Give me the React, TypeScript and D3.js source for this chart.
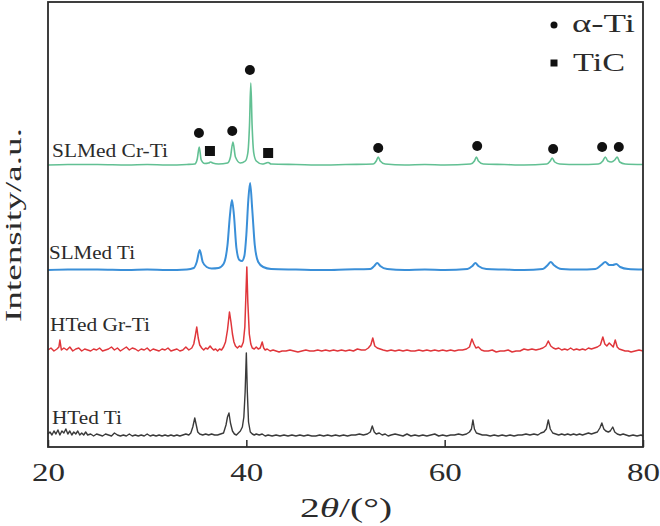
import React, { useEffect, useRef } from "react";
import * as d3 from "d3";

// ---------- data ----------
const xTicks = [20, 40, 60, 80];
const xTickLabels = ["20", "40", "60", "80"];
const seriesNames = ["HTed Ti", "HTed Gr-Ti", "SLMed Ti", "SLMed Cr-Ti"];
const seriesOffsets = [10, 95, 177, 282];

const htedTi: [number, number][] = [
  [20.0,3],[20.2,5],[20.4,2],[20.6,6],[20.8,3],[21.0,7],[21.2,2],[21.4,6],[21.6,4],[21.8,8],[22.0,3],[22.2,6],[22.4,2],[22.6,5],[22.8,3],[23.0,6],[23.2,2],[23.4,4],[23.6,2],[23.8,5],[24.0,2],[24.3,3],[24.6,1],[24.9,3],[25.2,2],[25.5,1],[25.8,3],[26.1,2],[26.4,1],[26.7,4],[27.0,2],[27.3,1],[27.6,2],[27.9,1],[28.2,3],[28.5,1],[28.8,2],[29.1,1],[29.4,2],[29.7,1],[30.0,3],[30.3,1],[30.6,2],[30.9,1],[31.2,2],[31.5,1],[31.8,2],[32.1,1],[32.4,2],[32.7,1],[33.0,2],[33.3,1],[33.6,2],[33.9,3],[34.2,2],[34.4,4],[34.6,10],[34.8,19],[34.95,12],[35.1,5],[35.3,3],[35.6,2],[35.9,3],[36.2,2],[36.5,3],[36.8,2],[37.1,2],[37.4,3],[37.7,4],[37.95,12],[38.1,20],[38.25,24],[38.4,14],[38.6,6],[38.8,3],[39.0,2],[39.2,4],[39.4,6],[39.6,10],[39.75,20],[39.88,45],[40.0,84],[40.1,45],[40.22,15],[40.4,5],[40.6,3],[40.8,2],[41.0,3],[41.3,2],[41.6,3],[41.9,1],[42.2,2],[42.6,1],[43.0,2],[43.4,1],[43.8,2],[44.2,1],[44.6,2],[45.0,1],[45.4,2],[45.8,1],[46.2,2],[46.6,1],[47.0,1],[47.4,2],[47.8,1],[48.2,2],[48.6,1],[49.0,2],[49.4,1],[49.8,2],[50.2,1],[50.6,2],[51.0,2],[51.4,3],[51.8,2],[52.2,3],[52.5,5],[52.7,11],[52.9,5],[53.1,3],[53.4,4],[53.7,2],[54.0,3],[54.3,1],[54.6,2],[55.0,3],[55.4,2],[55.8,1],[56.2,3],[56.6,1],[57.0,2],[57.4,1],[57.8,2],[58.2,1],[58.6,2],[59.0,3],[59.4,1],[59.8,2],[60.2,1],[60.6,2],[61.0,2],[61.4,3],[61.8,2],[62.2,3],[62.5,5],[62.7,8],[62.85,17],[63.0,8],[63.2,4],[63.5,3],[63.8,2],[64.2,2],[64.6,1],[65.0,2],[65.4,1],[65.8,2],[66.2,1],[66.6,2],[67.0,1],[67.4,2],[67.8,2],[68.2,3],[68.6,2],[69.0,3],[69.4,2],[69.7,4],[70.0,5],[70.25,8],[70.45,17],[70.65,8],[70.9,4],[71.2,3],[71.5,2],[71.8,3],[72.1,2],[72.4,3],[72.7,2],[73.0,3],[73.3,2],[73.6,3],[73.9,2],[74.2,3],[74.5,4],[74.8,3],[75.1,4],[75.4,5],[75.65,9],[75.85,14],[76.05,8],[76.25,6],[76.5,5],[76.7,6],[76.95,10],[77.15,5],[77.4,3],[77.7,2],[78.0,3],[78.3,2],[78.6,1],[79.0,2],[79.4,1],[79.8,2],[80.0,1]
];

const htedGrTi: [number, number][] = [
  [20.0,2],[20.3,4],[20.6,1],[20.9,3],[21.1,5],[21.2,12],[21.35,2],[21.6,4],[21.9,2],[22.2,5],[22.5,1],[22.8,3],[23.1,4],[23.4,1],[23.7,3],[24.0,2],[24.3,1],[24.6,3],[24.9,2],[25.2,4],[25.5,1],[25.8,2],[26.1,3],[26.4,5],[26.7,2],[27.0,4],[27.3,1],[27.6,3],[27.9,5],[28.2,2],[28.5,4],[28.8,3],[29.1,1],[29.4,3],[29.7,2],[30.0,4],[30.3,1],[30.6,3],[30.9,2],[31.2,1],[31.5,3],[31.8,2],[32.1,4],[32.4,1],[32.7,2],[33.0,3],[33.3,1],[33.6,2],[33.9,5],[34.2,2],[34.5,4],[34.7,8],[34.85,16],[35.0,25],[35.15,14],[35.3,7],[35.5,4],[35.7,2],[35.9,4],[36.1,3],[36.35,6],[36.5,4],[36.7,2],[36.9,3],[37.1,1],[37.3,3],[37.5,2],[37.7,5],[37.9,10],[38.1,22],[38.3,40],[38.45,30],[38.6,18],[38.75,10],[38.9,6],[39.1,4],[39.3,6],[39.5,5],[39.7,10],[39.85,25],[39.95,55],[40.05,85],[40.15,50],[40.3,18],[40.45,8],[40.6,4],[40.8,3],[41.0,5],[41.2,3],[41.4,4],[41.6,10],[41.75,4],[41.9,2],[42.1,3],[42.4,1],[42.7,2],[43.0,1],[43.3,0],[43.6,1],[44.0,1],[44.4,2],[44.8,1],[45.2,0],[45.6,1],[46.0,2],[46.4,1],[46.8,1],[47.2,2],[47.6,1],[48.0,2],[48.4,1],[48.8,2],[49.2,1],[49.6,2],[50.0,1],[50.4,2],[50.8,1],[51.2,3],[51.6,2],[52.0,2],[52.3,4],[52.55,7],[52.75,14],[52.95,6],[53.2,4],[53.5,3],[53.8,2],[54.2,1],[54.6,2],[55.0,1],[55.4,2],[55.8,1],[56.2,2],[56.6,1],[57.0,1],[57.4,2],[57.8,1],[58.2,2],[58.6,1],[59.0,2],[59.4,1],[59.8,2],[60.2,1],[60.6,2],[61.0,1],[61.4,2],[61.8,2],[62.2,3],[62.5,5],[62.75,13],[62.95,8],[63.15,4],[63.4,5],[63.7,2],[64.0,1],[64.4,1],[64.8,2],[65.2,0],[65.6,1],[66.0,1],[66.4,2],[66.8,0],[67.2,1],[67.6,1],[68.0,3],[68.4,2],[68.8,3],[69.2,2],[69.6,3],[69.9,4],[70.2,6],[70.45,11],[70.7,6],[70.95,4],[71.2,3],[71.5,4],[71.8,2],[72.1,3],[72.4,2],[72.7,4],[73.0,2],[73.3,3],[73.6,2],[73.9,3],[74.2,2],[74.5,4],[74.8,3],[75.1,4],[75.4,5],[75.7,7],[75.95,15],[76.15,8],[76.35,6],[76.6,9],[76.8,7],[77.0,5],[77.2,12],[77.4,5],[77.6,3],[77.9,2],[78.2,1],[78.5,1],[78.8,0],[79.2,1],[79.6,2],[80.0,1]
];

const slmedTi: [number, number][] = [
  [20,0],[22,0.5],[25,0.5],[28,0],[30,0.5],[32,0],[34,0.5],[34.7,2],[35.0,8],[35.3,20],[35.6,8],[36.0,3],[36.5,1.5],[37.2,2],[37.7,6],[38.1,25],[38.35,55],[38.55,70],[38.75,55],[39.0,22],[39.3,10],[39.55,9],[39.8,14],[40.0,35],[40.2,70],[40.38,87],[40.6,60],[40.85,25],[41.2,8],[41.7,3],[42.5,1],[45,0.5],[48,0],[50,0.5],[52.5,1],[52.9,4],[53.2,7],[53.5,4],[54.2,1],[56,0],[58,0.5],[60,0],[62.3,1],[62.8,4],[63.1,7],[63.4,4],[64.2,1],[66,0.5],[68,0],[69.9,1],[70.4,5],[70.7,8],[71.0,5],[71.8,1],[73.5,0.5],[75.2,1],[75.8,5],[76.2,8],[76.6,5],[76.95,5],[77.3,6],[77.7,3],[78.5,1],[80,0.5]
];

const slmedCrTi: [number, number][] = [
  [20,0],[22,0.5],[25,0.5],[28,0],[30,0.5],[32,0],[34,0.5],[34.8,1],[35.05,6],[35.25,18],[35.45,5],[35.8,1.5],[36.2,2],[36.4,3],[36.6,2],[37.2,1],[38.1,2],[38.4,8],[38.65,23],[38.9,8],[39.4,2],[39.9,4],[40.15,12],[40.32,40],[40.45,82],[40.58,40],[40.75,12],[41.0,4],[41.6,1],[42.0,2],[42.2,2.5],[42.5,1],[45,0.5],[48,0],[50,0.5],[52.8,1],[53.1,4],[53.3,8],[53.5,4],[54,1],[56,0],[58,0.5],[60,0],[62.6,1],[63.0,4],[63.2,8],[63.4,4],[63.9,1],[66,0.5],[68,0],[70.3,1],[70.65,4],[70.85,7],[71.1,3],[71.6,1],[73.5,0.5],[75.5,1],[75.95,4],[76.2,8],[76.45,4],[76.8,3],[77.15,5],[77.4,8],[77.65,3],[78.2,1],[80,0.5]
];

const seriesData = [htedTi, htedGrTi, slmedTi, slmedCrTi];

// phase markers: [2θ, intensity position]
const alphaTiMarks: [number, number][] = [
  [35.22,314],[38.58,316],[40.36,377],[53.3,299],[63.28,301],[70.94,298],[75.88,300],[77.56,300]
];
const ticMarks: [number, number][] = [[36.33,296],[42.2,294]];

const legendLabels = ["α-Ti", "TiC"];

// ---------- layout / style ----------
const W = 660, H = 526;
const PL = 48, PR = 643, PT = 2, PB = 447;
const colors = ["#3a3a3a", "#e0363b", "#3a8fd8", "#62c093"];
const strokeWidths = [1.4, 1.5, 2.0, 1.6];
const labelPos = [
  { x: 52, y: 424, len: 70 },
  { x: 50, y: 331, len: 100 },
  { x: 49, y: 259, len: 86 },
  { x: 52, y: 157, len: 116 },
];
const FONT = "'Liberation Serif', 'Times New Roman', serif";
const INK = "#2b2b2b";

export default function App() {
  const axisRef = useRef<SVGGElement>(null);

  const x = d3.scaleLinear().domain([20, 80]).range([PL, PR]);
  const y = d3.scaleLinear().domain([0, 445]).range([PB, PT]);

  useEffect(() => {
    if (!axisRef.current) return;
    const g = d3.select(axisRef.current);
    g.selectAll("*").remove();
    const axis = d3
      .axisBottom(x)
      .tickValues(xTicks)
      .tickFormat((_d, i) => xTickLabels[i])
      .tickSizeInner(-7)
      .tickSizeOuter(0)
      .tickPadding(0);
    g.call(axis as any);
    g.select(".domain").remove();
    g.selectAll(".tick line").attr("stroke", INK).attr("stroke-width", 1.5);
    g.selectAll(".tick text")
      .attr("y", 34)
      .attr("dy", null)
      .attr("fill", INK)
      .attr("font-family", FONT)
      .attr("font-size", 26)
      .attr("textLength", 33)
      .attr("lengthAdjust", "spacingAndGlyphs");
  });

  const lines = seriesData.map((s, i) =>
    d3
      .line<[number, number]>()
      .x((d) => x(d[0]))
      .y((d) => y(d[1] + seriesOffsets[i]))
      .curve(i >= 2 ? d3.curveMonotoneX : d3.curveLinear)(s)
  );

  return (
    <svg
      width={W}
      height={H}
      style={{ position: "absolute", left: 0, top: 0, background: "#fff" }}
      fontFamily={FONT}
    >
      <rect x={0} y={0} width={W} height={H} fill="#fff" />
      {lines.map((p, i) => (
        <path
          key={seriesNames[i]}
          d={p || ""}
          fill="none"
          stroke={colors[i]}
          strokeWidth={strokeWidths[i]}
          strokeLinejoin="round"
        />
      ))}
      {seriesNames.map((n, i) => (
        <text
          key={"lab" + n}
          x={labelPos[i].x}
          y={labelPos[i].y}
          fontSize={18}
          fill={INK}
          textLength={labelPos[i].len}
          lengthAdjust="spacingAndGlyphs"
        >
          {n}
        </text>
      ))}
      {alphaTiMarks.map((m, i) => (
        <circle key={"a" + i} cx={x(m[0])} cy={y(m[1])} r={5} fill="#111" />
      ))}
      {ticMarks.map((m, i) => (
        <rect key={"t" + i} x={x(m[0]) - 5} y={y(m[1]) - 5} width={10} height={10} fill="#111" />
      ))}
      {/* frame */}
      <rect
        x={PL}
        y={PT}
        width={PR - PL}
        height={PB - PT}
        fill="none"
        stroke={INK}
        strokeWidth={1.8}
      />
      <g ref={axisRef} transform={`translate(0,${PB})`} />
      {/* legend */}
      <circle cx={554} cy={25} r={3.5} fill="#111" />
      <text x={572} y={32} fontSize={25} fill={INK} textLength={63} lengthAdjust="spacingAndGlyphs">
        {legendLabels[0]}
      </text>
      <rect x={550.5} y={59.5} width={7} height={7} fill="#111" />
      <text x={573} y={71} fontSize={25} fill={INK} textLength={52} lengthAdjust="spacingAndGlyphs">
        {legendLabels[1]}
      </text>
      {/* axis titles */}
      <text x={300} y={517} fontSize={28} fill={INK} textLength={92} lengthAdjust="spacingAndGlyphs">
        2<tspan fontStyle="italic">θ</tspan>/(°)
      </text>
      <text
        transform="translate(21,225) rotate(-90)"
        textAnchor="middle"
        fontSize={23}
        fill={INK}
        textLength={194}
        lengthAdjust="spacingAndGlyphs"
      >
        Intensity/a.u.
      </text>
    </svg>
  );
}
